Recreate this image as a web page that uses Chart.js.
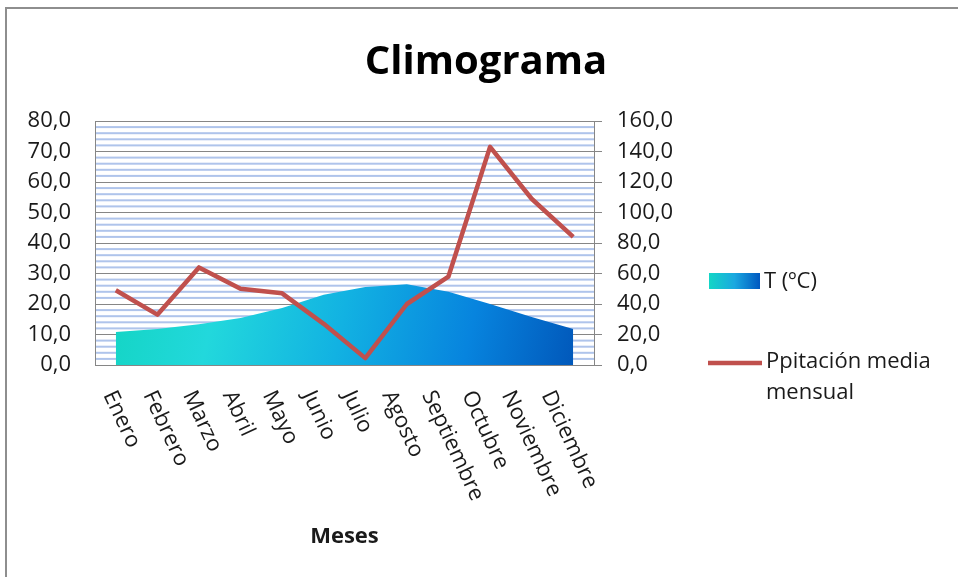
<!DOCTYPE html>
<html>
<head>
<meta charset="utf-8">
<script src="https://cdn.jsdelivr.net/npm/chart.js@4/dist/chart.umd.min.js"></script>
<style>
  html, body { margin: 0; padding: 0; background: #fff; }
  #wrap { position: relative; width: 958px; height: 577px; }
</style>
</head>
<body>
<div id="wrap"><canvas id="clima"></canvas></div>
<script>
// data
const meses = ['Enero', 'Febrero', 'Marzo', 'Abril', 'Mayo', 'Junio', 'Julio',
  'Agosto', 'Septiembre', 'Octubre', 'Noviembre', 'Diciembre'];
const temperatura = [10.8, 11.8, 13.4, 15.4, 18.7, 23.0, 25.6, 26.5, 24.0, 20.0, 15.7, 11.8];
const precipitacion = [49, 33, 64, 50, 47, 27, 4.5, 40, 58, 143, 109, 84];
const ticksTemp = [0, 80, 10];
const ticksPrec = [0, 160, 20];

const FONT = "'Open Sans', 'Noto Sans', sans-serif";
const TEXT = '#1a1a1a';
const RED = '#C0504D';
const GRAY = '#868686';

const fmt = v => Number(v).toFixed(1).replace('.', ',');

function tempFill(ctx) {
  const a = ctx.chart.chartArea;
  if (!a) return '#12B2E2';
  const g = ctx.chart.ctx.createLinearGradient(a.left, a.top + (a.bottom - a.top) * 0.55, a.right, a.bottom);
  g.addColorStop(0, '#10D4BE');
  g.addColorStop(0.25, '#22D8DC');
  g.addColorStop(0.5, '#12B2E2');
  g.addColorStop(0.75, '#0784DE');
  g.addColorStop(1, '#0050B4');
  return g;
}

const decor = {
  id: 'decor',
  beforeDraw(chart) {
    const { ctx, chartArea: a, scales: { y } } = chart;
    ctx.save();
    // striped plot background
    ctx.fillStyle = '#AFC4EB';
    for (let v = ticksTemp[0] + 2; v < ticksTemp[1]; v += 2) {
      if (v % ticksTemp[2] === 0) continue;
      const py = y.getPixelForValue(v);
      ctx.fillRect(a.left, py - 1, a.right - a.left, 2);
    }
    ctx.restore();
  },
  afterDraw(chart) {
    const { ctx, scales: { x } } = chart;
    ctx.save();
    // outer frame (left + top)
    ctx.strokeStyle = '#8E8E8E';
    ctx.lineWidth = 2;
    ctx.beginPath();
    ctx.moveTo(6, 577);
    ctx.lineTo(6, 8);
    ctx.lineTo(958, 8);
    ctx.stroke();

    // rotated month labels
    ctx.fillStyle = TEXT;
    ctx.font = '22px ' + FONT;
    ctx.textAlign = 'left';
    ctx.textBaseline = 'middle';
    const x0 = x.getPixelForTick(0);
    meses.forEach((m, i) => {
      const px = x.getPixelForTick(i);
      const lx = px - 7 - 0.042 * (px - x0);
      ctx.save();
      ctx.translate(lx, 392);
      ctx.rotate(65 * Math.PI / 180);
      ctx.fillText(m, 0, 0);
      ctx.restore();
    });

    // legend
    const g = ctx.createLinearGradient(709, 0, 760, 0);
    g.addColorStop(0, '#14D6C6');
    g.addColorStop(0.5, '#1AA8E0');
    g.addColorStop(1, '#0058C0');
    ctx.fillStyle = g;
    ctx.fillRect(709, 273, 51, 16);
    ctx.fillStyle = TEXT;
    ctx.fillText('T (ºC)', 764, 282);

    ctx.strokeStyle = RED;
    ctx.lineWidth = 4.5;
    ctx.beginPath();
    ctx.moveTo(708, 363);
    ctx.lineTo(762, 363);
    ctx.stroke();
    ctx.fillText('Ppitación media', 766, 362);
    ctx.fillText('mensual', 766, 393);
    ctx.restore();
  }
};

new Chart(document.getElementById('clima'), {
  type: 'line',
  data: {
    labels: meses,
    datasets: [{
      label: 'Ppitación media mensual',
      data: precipitacion,
      yAxisID: 'y2',
      borderColor: RED,
      borderWidth: 4.5,
      borderJoinStyle: 'round',
      pointRadius: 0,
      tension: 0,
      fill: false,
      order: 0
    }, {
      label: 'T (ºC)',
      data: temperatura,
      yAxisID: 'y',
      backgroundColor: tempFill,
      borderWidth: 0,
      pointRadius: 0,
      tension: 0,
      fill: 'origin',
      order: 1
    }]
  },
  options: {
    responsive: true,
    maintainAspectRatio: false,
    animation: false,
    layout: { padding: { left: 14, right: 0, top: 0, bottom: 0 } },
    plugins: {
      legend: { display: false },
      tooltip: { enabled: false },
      title: {
        display: true,
        text: 'Climograma',
        color: '#000',
        font: { family: FONT, size: 40, weight: 'bold', lineHeight: 1.2 },
        padding: { top: 39, bottom: 34 }
      }
    },
    scales: {
      x: {
        offset: true,
        grid: { display: false },
        border: { display: false },
        ticks: { display: false },
        title: {
          display: true,
          text: 'Meses',
          color: TEXT,
          font: { family: FONT, size: 22, weight: 'bold', lineHeight: 1.2 },
          padding: { bottom: 27 }
        },
        afterFit: s => { s.height = 212; }
      },
      y: {
        position: 'left',
        min: ticksTemp[0],
        max: ticksTemp[1],
        border: { display: true, color: GRAY, width: 1 },
        grid: { color: GRAY, lineWidth: 1, drawTicks: false },
        ticks: {
          stepSize: ticksTemp[2],
          padding: 24,
          color: TEXT,
          font: { family: FONT, size: 22 },
          callback: fmt
        },
        afterFit: s => { s.width = 81; }
      },
      y2: {
        position: 'right',
        min: ticksPrec[0],
        max: ticksPrec[1],
        border: { display: true, color: GRAY, width: 1 },
        grid: { drawOnChartArea: false, drawTicks: true, tickLength: 8, color: GRAY },
        ticks: {
          stepSize: ticksPrec[2],
          padding: 15,
          color: TEXT,
          font: { family: FONT, size: 22 },
          callback: fmt
        },
        afterFit: s => { s.width = 364; }
      }
    }
  },
  plugins: [decor]
});
</script>
</body>
</html>
